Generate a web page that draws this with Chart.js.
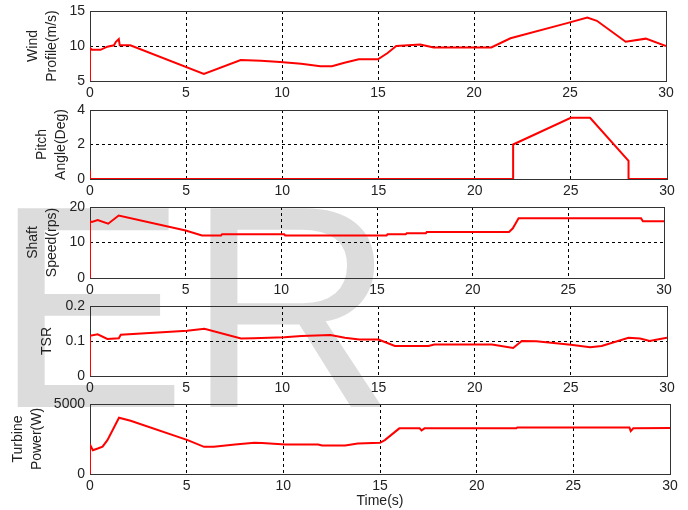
<!DOCTYPE html>
<html>
<head>
<meta charset="utf-8">
<script src="https://cdn.jsdelivr.net/npm/chart.js@4.4.1/dist/chart.umd.min.js"></script>
<style>
html, body { margin: 0; padding: 0; background: #fff; }
#wrap { position: relative; width: 688px; height: 510px; overflow: hidden; }
#wrap canvas { position: absolute; left: 0; }
#wm { position: absolute; left: 0; top: 0; }
</style>
</head>
<body>
<div id="wrap">
    <svg id="wm" width="688" height="510"><text x="-6" y="407" font-family="Liberation Sans, Arial, sans-serif" font-size="289" fill="#dcdcdc">ER</text></svg>
    <canvas id="wind" width="688" height="98" style="top:3px"></canvas>
    <canvas id="pitch" width="688" height="97" style="top:102px"></canvas>
    <canvas id="shaft" width="688" height="99" style="top:199px"></canvas>
    <canvas id="tsr" width="688" height="98" style="top:298px"></canvas>
    <canvas id="power" width="688" height="114" style="top:396px"></canvas>
</div>
<script>
"use strict";

// time axis
const timeMin = 0;
const timeMax = 30;
const timeStep = 5;

// wind profile (m/s)
const windT = [0, 0, 0.1, 0.55, 0.9, 1.25, 1.35, 1.5, 1.55, 2.1, 5.93, 7.85, 8.9, 9.9, 11, 12.0, 12.6, 13.25, 14.0, 15.0, 15.5, 15.95, 17.2, 17.9, 20.9, 21.9, 24.9, 25.9, 26.4, 27.9, 28.95, 30];
const windV = [5, 9.7, 9.45, 9.45, 9.9, 10.1, 10.6, 11.0, 10.1, 10.1, 6.0, 8.0, 7.9, 7.7, 7.45, 7.1, 7.1, 7.6, 8.1, 8.1, 9.0, 10.0, 10.2, 9.8, 9.8, 11.1, 13.3, 14.05, 13.6, 10.6, 11.05, 10.0];

// pitch angle (deg)
const pitchT = [0, 0, 22, 22, 25, 26, 28, 28, 30];
const pitchV = [0.5, 0, 0, 2.0, 3.55, 3.55, 1.05, 0, 0];

// shaft speed (rps)
const shaftT = [0, 0, 0.1, 0.4, 0.95, 1.5, 5.0, 5.85, 6.85, 6.9, 10.15, 10.2, 15.5, 15.55, 16.5, 16.55, 17.55, 17.6, 21.9, 22.1, 22.4, 28.8, 28.9, 30];
const shaftV = [0, 16, 15.8, 16.3, 15.3, 17.6, 13.4, 12.0, 12.0, 12.3, 12.3, 12.0, 12.0, 12.3, 12.3, 12.6, 12.6, 12.95, 12.95, 14, 16.8, 16.8, 16.0, 16.0];

// tip speed ratio
const tsrT = [0, 0, 0.4, 0.9, 1.5, 1.6, 5.05, 5.95, 7.85, 8.5, 10.1, 11, 12.5, 13.25, 14, 15, 15.85, 17.6, 17.9, 20.9, 22.0, 22.45, 23.2, 25, 26, 26.6, 28, 28.6, 29.1, 29.5, 30];
const tsrV = [0, 0.115, 0.119, 0.106, 0.108, 0.118, 0.129, 0.135, 0.107, 0.108, 0.111, 0.114, 0.117, 0.109, 0.104, 0.104, 0.086, 0.086, 0.09, 0.09, 0.08, 0.1, 0.099, 0.089, 0.082, 0.086, 0.109, 0.107, 0.1, 0.104, 0.109];

// turbine power (W)
const powerT = [0, 0, 0.15, 0.4, 0.65, 0.9, 1.5, 2.1, 5.05, 5.9, 6.4, 7.5, 8.5, 8.9, 10.1, 11.8, 12, 13.2, 13.85, 15, 15.25, 16, 17.05, 17.15, 17.3, 22.05, 22.1, 27.9, 27.97, 28.1, 30];
const powerV = [0, 2100, 1700, 1820, 1950, 2420, 4020, 3800, 2420, 1940, 1950, 2110, 2230, 2210, 2110, 2110, 2030, 2030, 2180, 2230, 2420, 3260, 3260, 3110, 3260, 3260, 3330, 3330, 3060, 3260, 3280];

Chart.defaults.font.family = "'Liberation Sans', Arial, sans-serif";
Chart.defaults.font.size = 14;
Chart.defaults.color = "#222";

const boxPlugin = {
    id: "box",
    beforeDatasetsDraw(chart) {
        const a = chart.chartArea;
        const c = chart.ctx;
        c.save();
        c.strokeStyle = "#333";
        c.lineWidth = 1;
        c.strokeRect(Math.round(a.left) + 0.5, Math.round(a.top) + 0.5, Math.round(a.right - a.left), Math.round(a.bottom - a.top));
        c.restore();
    }
};

function inner(min, max) {
    return function(ctx) {
        if (ctx.tick && (Math.abs(ctx.tick.value - min) < 1e-9 || Math.abs(ctx.tick.value - max) < 1e-9)) return "rgba(0,0,0,0)";
        return "#000";
    };
}

function makepanel(id, times, values, yMin, yMax, yStep, label, labelPad, right, xTitle) {
    const pts = times.map(function(t, i) { return { x: t, y: values[i] }; });
    return new Chart(document.getElementById(id), {
        type: "line",
        data: {
            datasets: [ {
                data: pts,
                borderColor: "#ff0000",
                borderWidth: 2,
                pointRadius: 0,
                tension: 0,
                fill: false
            } ]
        },
        options: {
            responsive: false,
            animation: false,
            events: [],
            layout: {
                autoPadding: false,
                padding: { left: 0, top: 8, right: 688 - right, bottom: 0 }
            },
            plugins: {
                legend: { display: false },
                tooltip: { enabled: false }
            },
            scales: {
                x: {
                    type: "linear",
                    min: timeMin,
                    max: timeMax,
                    ticks: { stepSize: timeStep, padding: 4, maxRotation: 0, autoSkip: false },
                    grid: { color: inner(timeMin, timeMax), lineWidth: 1, drawTicks: false },
                    border: { display: false, dash: [3, 3] },
                    title: xTitle ? { display: true, text: xTitle, padding: { top: 0, bottom: 0 } } : { display: false },
                    afterFit: function(s) {
                        s.height = xTitle ? 36 : 20;
                        s.paddingLeft = 0;
                        s.paddingRight = 0;
                    }
                },
                y: {
                    type: "linear",
                    min: yMin,
                    max: yMax,
                    ticks: {
                        stepSize: yStep,
                        padding: 5,
                        callback: function(v) { return String(Math.round(v * 1000) / 1000); }
                    },
                    grid: { color: inner(yMin, yMax), lineWidth: 1, drawTicks: false },
                    border: { display: false, dash: [3, 3] },
                    title: {
                        display: true,
                        text: label,
                        font: { size: 14, lineHeight: "19px" },
                        padding: { top: labelPad, bottom: 0 }
                    },
                    afterFit: function(s) {
                        s.width = 90;
                        s.paddingTop = 0;
                        s.paddingBottom = 0;
                    }
                }
            }
        },
        plugins: [ boxPlugin ]
    });
}

makepanel("wind", windT, windV, 5, 15, 5, ["Wind", "Profile(m/s)"], 24, 666, null);
makepanel("pitch", pitchT, pitchV, 0, 4, 2, ["Pitch", "Angle(Deg)"], 33, 667, null);
makepanel("shaft", shaftT, shaftV, 0, 20, 10, ["Shaft", "Speed(rps)"], 24, 664, null);
makepanel("tsr", tsrT, tsrV, 0, 0.2, 0.1, ["TSR"], 38, 667, null);
makepanel("power", powerT, powerV, 0, 5000, 5000, ["Turbine", "Power(W)"], 9, 670, "Time(s)");
</script>
</body>
</html>
